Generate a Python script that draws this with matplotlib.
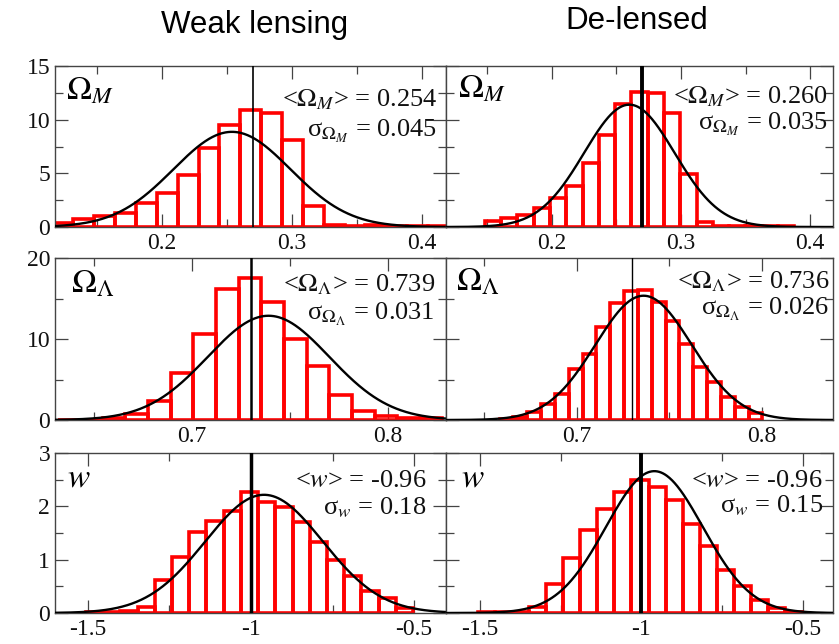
import numpy as np
import matplotlib
matplotlib.use("Agg")
import matplotlib.pyplot as plt
from matplotlib.ticker import FixedLocator, FixedFormatter

plt.rcParams['font.family'] = ['Liberation Serif', 'DejaVu Serif']
plt.rcParams['mathtext.fontset'] = 'stix'

# ---- data -------------------------------------------------------------
column_titles = ["Weak lensing", "De-lensed"]

# Omega_M histograms (bin range and normalised counts)
om_wl_range = (0.116, 0.4208)
om_wl_counts = [0.4, 0.77, 1.0, 1.33, 2.26, 3.16, 4.89, 7.33, 9.46, 10.9,
                10.6, 8.1, 2.0, 0.2, 0.1, 0.15, 0.1, 0.06, 0.06]
om_dl_range = (0.148, 0.3878)
om_dl_counts = [0.53, 0.87, 1.14, 1.79, 2.69, 3.8, 5.97, 8.57, 11.5, 12.6,
                12.5, 10.6, 4.95, 0.46, 0.1, 0.05, 0.05, 0.05, 0.05]

# Omega_Lambda histograms
ol_wl_range = (0.6313, 0.8278)
ol_wl_counts = [0.05, 0.05, 0.2, 0.75, 2.3, 5.85, 10.6, 16.2, 17.5, 14.6,
                10.0, 6.7, 3.1, 1.1, 0.55, 0.2, 0.2]
ol_dl_range = (0.6582, 0.8002)
ol_dl_counts = [0.12, 0.41, 1.03, 1.94, 3.2, 6.3, 8.2, 11.5, 14.4, 15.9,
                16.1, 14.6, 12.2, 9.4, 6.5, 4.7, 2.9, 1.65, 0.9]

# w histograms
w_wl_range = (-1.506, -0.503)
w_wl_counts = [0.02, 0.02, 0.03, 0.106, 0.62, 1.05, 1.52, 1.73, 1.92, 2.26,
               2.08, 1.98, 1.70, 1.33, 0.99, 0.69, 0.42, 0.28, 0.10]
w_dl_range = (-1.506, -0.503)
w_dl_counts = [0.01, 0.01, 0.02, 0.12, 0.54, 1.04, 1.55, 1.95, 2.26, 2.50,
               2.36, 2.12, 1.67, 1.26, 0.81, 0.5, 0.25, 0.09, 0.02]

# Gaussian fits: mean and sigma per column
om_mean = [0.254, 0.260]
om_sigma = [0.045, 0.035]
ol_mean = [0.739, 0.736]
ol_sigma = [0.031, 0.026]
w_mean = [-0.96, -0.96]
w_sigma = [0.18, 0.15]

# fiducial values
om_fid = 0.27
ol_fid = 0.73
w_fid = -1.0

# axis ticks and labels
om_xticks = [0.2, 0.3, 0.4]
om_xlabels = ["0.2", "0.3", "0.4"]
om_xminor = [0.15, 0.25, 0.35]
om_yticks = [0, 5, 10, 15]
om_ylabels = ["0", "5", "10", "15"]
om_yminor = [2.5, 7.5, 12.5]

ol_xticks = [0.7, 0.8]
ol_xlabels = ["0.7", "0.8"]
ol_xminor = [0.65, 0.75]
ol_yticks = [0, 10, 20]
ol_ylabels = ["0", "10", "20"]
ol_yminor = [5, 15]

w_xticks = [-1.5, -1.0, -0.5]
w_xlabels = ["-1.5", "-1", "-0.5"]
w_xminor = [-1.25, -0.75]
w_yticks = [0, 1, 2, 3]
w_ylabels = ["0", "1", "2", "3"]
w_yminor = [0.5, 1.5, 2.5]

# ---- figure -----------------------------------------------------------
W, H = 839, 644
fig = plt.figure(figsize=(W / 100, H / 100), dpi=100)

col_px = [(55, 446), (446, 833)]
row_px = [(66, 227), (258, 420), (453, 613)]


def add_axes(r, c):
    x0, x1 = col_px[c]
    y0, y1 = row_px[r]
    return fig.add_axes([x0 / W, 1 - y1 / H, (x1 - x0) / W, (y1 - y0) / H])


rows = [
    dict(ranges=[om_wl_range, om_dl_range], counts=[om_wl_counts, om_dl_counts],
         mean=om_mean, sigma=om_sigma, fid=om_fid,
         xlim=[(0.118, 0.4185), (0.118, 0.4177)], ylim=(0, 15),
         xt=om_xticks, xl=om_xlabels, xm=om_xminor,
         yt=om_yticks, yl=om_ylabels, ym=om_yminor,
         vlw=[1.2, 2.8],
         name=r"$\Omega_M$",
         mean_txt=[r"<$\Omega_M$> = 0.254", r"<$\Omega_M$> = 0.260"],
         sig_txt=[r"σ$_{\Omega_M}$ = 0.045", r"σ$_{\Omega_M}$ = 0.035"],
         name_pos=[(0.028, 0.789), (0.031, 0.807)],
         mean_pos=[(0.977, 0.747), (0.987, 0.770)],
         sig_pos=[(0.977, 0.559), (0.987, 0.602)]),
    dict(ranges=[ol_wl_range, ol_dl_range], counts=[ol_wl_counts, ol_dl_counts],
         mean=ol_mean, sigma=ol_sigma, fid=ol_fid,
         xlim=[(0.630, 0.8296), (0.6292, 0.8384)], ylim=(0, 20),
         xt=ol_xticks, xl=ol_xlabels, xm=ol_xminor,
         yt=ol_yticks, yl=ol_ylabels, ym=ol_yminor,
         vlw=[1.8, 1.0],
         name=r"$\Omega_\Lambda$",
         mean_txt=[r"<$\Omega_\Lambda$> = 0.739", r"<$\Omega_\Lambda$> = 0.736"],
         sig_txt=[r"σ$_{\Omega_\Lambda}$ = 0.031", r"σ$_{\Omega_\Lambda}$ = 0.026"],
         name_pos=[(0.040, 0.784), (0.026, 0.80)],
         mean_pos=[(0.972, 0.792), (0.990, 0.815)],
         sig_pos=[(0.972, 0.617), (0.990, 0.648)]),
    dict(ranges=[w_wl_range, w_dl_range], counts=[w_wl_counts, w_dl_counts],
         mean=w_mean, sigma=w_sigma, fid=w_fid,
         xlim=[(-1.601, -0.402), (-1.605, -0.407)], ylim=(0, 3),
         xt=w_xticks, xl=w_xlabels, xm=w_xminor,
         yt=w_yticks, yl=w_ylabels, ym=w_yminor,
         vlw=[2.5, 2.8],
         name=r"$w$",
         mean_txt=[r"<$w$> = -0.96", r"<$w$> = -0.96"],
         sig_txt=[r"σ$_w$ = 0.18", r"σ$_w$ = 0.15"],
         name_pos=[(0.030, 0.79), (0.038, 0.79)],
         mean_pos=[(0.949, 0.789), (0.974, 0.789)],
         sig_pos=[(0.949, 0.619), (0.974, 0.631)]),
]

spine_col = "#444444"

for r, spec in enumerate(rows):
    for c in range(2):
        ax = add_axes(r, c)
        lo, hi = spec["ranges"][c]
        counts = np.asarray(spec["counts"][c])
        edges = np.linspace(lo, hi, len(counts) + 1)
        widths = np.diff(edges)
        ax.bar(edges[:-1], counts, width=widths, align="edge", fill=False,
               edgecolor="#ff0000", linewidth=2.6, zorder=2)

        xlo, xhi = spec["xlim"][c]
        xs = np.linspace(xlo, xhi, 600)
        mu, sg = spec["mean"][c], spec["sigma"][c]
        ys = np.exp(-0.5 * ((xs - mu) / sg) ** 2) / (np.sqrt(2 * np.pi) * sg)
        ax.plot(xs, ys, color="black", lw=1.7, zorder=3)
        ax.axvline(spec["fid"], color="black", lw=spec["vlw"][c], zorder=4)

        ax.set_xlim(xlo, xhi)
        ax.set_ylim(*spec["ylim"])

        ax.xaxis.set_major_locator(FixedLocator(spec["xt"]))
        ax.xaxis.set_major_formatter(FixedFormatter(spec["xl"]))
        ax.xaxis.set_minor_locator(FixedLocator(spec["xm"]))
        ax.yaxis.set_major_locator(FixedLocator(spec["yt"]))
        ax.yaxis.set_minor_locator(FixedLocator(spec["ym"]))
        if c == 0:
            ax.yaxis.set_major_formatter(FixedFormatter(spec["yl"]))
        else:
            ax.yaxis.set_major_formatter(FixedFormatter([""] * len(spec["yt"])))

        ax.tick_params(which="both", direction="in", top=True, right=True,
                       color=spine_col, width=0.9, labelsize=17,
                       labelcolor="#111111")
        ax.tick_params(which="major", length=9.4)
        ax.tick_params(which="minor", length=5.8)
        ax.tick_params(axis="x", pad=4)
        ax.tick_params(axis="y", pad=3.5)
        for s in ax.spines.values():
            s.set_color(spine_col)
            s.set_linewidth(1.0)

        nx, ny = spec["name_pos"][c]
        ax.text(nx, ny, spec["name"], transform=ax.transAxes, fontsize=24,
                ha="left", va="baseline", zorder=5)
        mx, my = spec["mean_pos"][c]
        ax.text(mx, my, spec["mean_txt"][c], transform=ax.transAxes,
                fontsize=19, ha="right", va="baseline", color="#111111", zorder=5)
        sx, sy = spec["sig_pos"][c]
        ax.text(sx, sy, spec["sig_txt"][c], transform=ax.transAxes,
                fontsize=19, ha="right", va="baseline", color="#111111", zorder=5)

fig.text(255 / W, 1 - 25 / H, column_titles[0], family="Liberation Sans",
         fontsize=22.5, ha="center", va="center")
fig.text(637 / W, 1 - 21 / H, column_titles[1], family="Liberation Sans",
         fontsize=22.5, ha="center", va="center")

fig.savefig("out.png", dpi=100, facecolor="white")
